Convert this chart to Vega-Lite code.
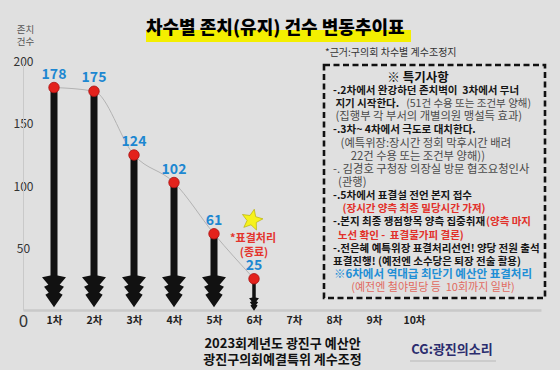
{
  "$schema": "https://vega.github.io/schema/vega-lite/v6.json",
  "width": 518,
  "height": 250,
  "autosize": {"type": "none"},
  "padding": {"left": 23, "top": 60, "right": 19, "bottom": 60},
  "background": "#e0e0e0",
  "config": {"view": {"stroke": null}, "font": "Noto Sans CJK KR", "text": {"font": "Noto Sans CJK KR"}},
  "title": {"text": "차수별 존치(유지) 건수 변동추이표", "anchor": "start", "frame": "group", "dx": 123, "dy": 23, "offset": 0, "fontSize": 18, "fontWeight": 900, "color": "#000000", "font": "Noto Sans CJK KR", "baseline": "middle"},
  "datasets": {
    "counts": [
      {"round": 1, "count": 178},
      {"round": 2, "count": 175},
      {"round": 3, "count": 124},
      {"round": 4, "count": 102},
      {"round": 5, "count": 61},
      {"round": 6, "count": 25}
    ],
    "labels": [
      {"id": "source", "text": "*근거:구의회 차수별 계수조정지"},
      {"id": "vote", "text": "*표결처리"},
      {"id": "vote2", "text": "(종료)"},
      {"id": "credit", "text": "CG:광진의소리"}
    ],
    "notes": [
      {"line": 0, "type": "head", "text": "※ 특기사항"},
      {"line": 1, "type": "bullet", "text": "-.2차에서 완강하던 존치벽이\u00a0\u00a03차에서 무너"},
      {"line": 2, "type": "bullet", "text": "\u200b\u00a0지기 시작한다."},
      {"line": 2, "type": "grayR", "text": "(51건 수용 또는 조건부 양해)"},
      {"line": 3, "type": "gray", "text": "\u200b\u00a0(집행부 각 부서의 개별의원 맹설득 효과)"},
      {"line": 4, "type": "bullet", "text": "-.3차~ 4차에서 극도로 대치한다."},
      {"line": 5, "type": "gray", "text": "\u200b\u00a0\u00a0\u00a0(예특위장:장시간 정회 막후시간 배려"},
      {"line": 6, "type": "gray", "text": "\u200b\u00a0\u00a0\u00a0\u00a0\u00a0\u00a0\u00a022건 수용 또는 조건부 양해))"},
      {"line": 7, "type": "gray", "text": "-. 김경호 구청장 의장실 방문 협조요청인사"},
      {"line": 8, "type": "gray", "text": "\u200b\u00a0\u00a0(관행)"},
      {"line": 9, "type": "bullet", "text": "-.5차에서 표결설 전언 본지 접수"},
      {"line": 10, "type": "red", "text": "\u200b\u00a0\u00a0\u00a0\u00a0(장시간 양측 최종 밀당시간 가져)"},
      {"line": 11, "type": "bullet", "text": "-.본지 최종 쟁점항목 양측 집중취재"},
      {"line": 11, "type": "redR", "text": "(양측 마지"},
      {"line": 12, "type": "red", "text": "\u200b\u00a0\u00a0노선 확인 -\u00a0\u00a0표결불가피 결론)"},
      {"line": 13, "type": "bullet", "text": "-.전은혜 예특위장 표결처리선언! 양당 전원 출석"},
      {"line": 14, "type": "bullet", "text": "표결진행! (예전엔 소수당은 퇴장 전술 활용)"},
      {"line": 15, "type": "blue", "text": "※6차에서 역대급 최단기 예산안 표결처리"},
      {"line": 16, "type": "note", "text": "(예전엔 철야밀당 등\u00a0\u00a010회까지 일반)"}
    ]
  },
  "layer": [
    {
      "data": {"name": "counts"},
      "layer": [
        {
          "mark": {"type": "line", "interpolate": "monotone", "color": "#b3b3b3", "strokeWidth": 1},
          "encoding": {
            "x": {"field": "round", "type": "quantitative",
              "scale": {"domain": [0.225, 13.175], "nice": false, "zero": false},
              "axis": {"values": [1, 2, 3, 4, 5, 6, 7, 8, 9, 10], "labelExpr": "datum.value + '차'", "ticks": false, "grid": false,
                "domainColor": "#c9c9c9", "domainWidth": 2.5, "labelFont": "Noto Sans CJK KR", "labelFontSize": 10.5, "labelFontWeight": "bold",
                "labelColor": "#222222", "labelPadding": 5, "labelFlush": false,
                "title": ["2023회계년도 광진구 예산안", "광진구의회예결특위 계수조정"], "titleFont": "Noto Sans CJK KR", "titleFontSize": 13, "titleFontWeight": "bold",
                "titleColor": "#111111", "titlePadding": 12, "titleLineHeight": 16}},
            "y": {"field": "count", "type": "quantitative",
              "scale": {"domain": [0, 200], "nice": false},
              "axis": {"values": [0, 50, 100, 150, 200], "ticks": false, "grid": false, "domainColor": "#c9c9c9", "domainWidth": 1,
                "labelAlign": "center", "labelPadding": 0, "labelFont": "Noto Sans CJK KR", "labelColor": "#333333",
                "labelFontSize": {"condition": {"test": "datum.value == 0", "value": 17}, "value": 12},
                "labelOffset": {"condition": {"test": "datum.value == 0", "value": 11}, "value": 1},
                "title": ["존치", "건수"], "titleAngle": 0, "titleX": 2, "titleY": -36, "titleAlign": "center", "titleBaseline": "top",
                "titleFont": "Noto Sans CJK KR", "titleFontSize": 9.5, "titleFontWeight": "normal", "titleColor": "#555555", "titleLineHeight": 12}}
          }
        },
        {
          "transform": [{"filter": "datum.round <= 5"}],
          "mark": {"type": "rule", "color": "#111111", "strokeWidth": 7},
          "encoding": {"x": {"field": "round", "type": "quantitative"}, "y": {"field": "count", "type": "quantitative"}, "y2": {"datum": 18}}
        },
        {
          "transform": [{"filter": "datum.round <= 5"}],
          "mark": {"type": "point", "filled": true, "color": "#111111", "opacity": 1, "size": 576, "strokeWidth": 0,
            "shape": "M-0.3,-1.3 L-1,-1.14 L-0.47,-0.53 L-0.83,-0.36 L-0.44,0.14 L-0.72,0.31 L0,1.36 L0.72,0.31 L0.44,0.14 L0.83,-0.36 L0.47,-0.53 L1,-1.14 L0.3,-1.3 Z"},
          "encoding": {"x": {"field": "round", "type": "quantitative"}, "y": {"datum": 15.2}}
        },
        {
          "transform": [{"filter": "datum.round == 6"}],
          "mark": {"type": "rule", "color": "#111111", "strokeWidth": 3.5},
          "encoding": {"x": {"field": "round", "type": "quantitative"}, "y": {"field": "count", "type": "quantitative"}, "y2": {"datum": 6}}
        },
        {
          "transform": [{"filter": "datum.round == 6"}],
          "mark": {"type": "point", "filled": true, "color": "#111111", "opacity": 1, "size": 100, "strokeWidth": 0,
            "shape": "M-0.3,-1.3 L-1,-1.14 L-0.47,-0.53 L-0.83,-0.36 L-0.44,0.14 L-0.72,0.31 L0,1.36 L0.72,0.31 L0.44,0.14 L0.83,-0.36 L0.47,-0.53 L1,-1.14 L0.3,-1.3 Z"},
          "encoding": {"x": {"field": "round", "type": "quantitative"}, "y": {"datum": 4.8}}
        },
        {
          "mark": {"type": "point", "shape": "circle", "filled": true, "fill": "#e3221c", "stroke": "#a81212", "strokeWidth": 0.8, "opacity": 1, "size": 110},
          "encoding": {"x": {"field": "round", "type": "quantitative"}, "y": {"field": "count", "type": "quantitative"}}
        },
        {
          "mark": {"type": "text", "dy": -13, "fontSize": 14, "fontWeight": "bold", "color": "#1d87d1", "baseline": "middle"},
          "encoding": {"x": {"field": "round", "type": "quantitative"}, "y": {"field": "count", "type": "quantitative"}, "text": {"field": "count", "type": "quantitative"}}
        },
        {
          "data": {"name": "labels"},
          "transform": [{"filter": "datum.id == 'source'"}],
          "mark": {"type": "rect", "fill": "#f4ef00"},
          "encoding": {"x": {"datum": 3.3}, "x2": {"datum": 9.925}, "y": {"datum": 224}, "y2": {"datum": 214.4}}
        },
        {
          "data": {"name": "labels"},
          "transform": [{"filter": "datum.id == 'source'"}],
          "mark": {"type": "text", "align": "left", "baseline": "middle", "fontSize": 10, "color": "#333333"},
          "encoding": {"x": {"datum": 7.775}, "y": {"datum": 205.6}, "text": {"field": "text"}}
        },
        {
          "data": {"name": "labels"},
          "transform": [{"filter": "datum.id == 'source'"}],
          "mark": {"type": "rect", "fill": "transparent", "stroke": "#111111", "strokeWidth": 2.6, "strokeDash": [6, 3.5]},
          "encoding": {"x": {"datum": 7.75}, "x2": {"datum": 13.275}, "y": {"datum": 196}, "y2": {"datum": 9.6}}
        },
        {
          "data": {"name": "labels"},
          "transform": [{"filter": "datum.id == 'vote'"}],
          "mark": {"type": "point", "filled": true, "fill": "#f6f21c", "stroke": "#b5ad00", "strokeWidth": 0.6, "opacity": 1, "size": 484, "angle": 12,
            "shape": "M0,-1 L0.265,-0.364 L0.951,-0.309 L0.428,0.139 L0.588,0.809 L0,0.45 L-0.588,0.809 L-0.428,0.139 L-0.951,-0.309 L-0.265,-0.364 Z"},
          "encoding": {"x": {"datum": 5.95}, "y": {"datum": 72}}
        },
        {
          "data": {"name": "labels"},
          "transform": [{"filter": "datum.id == 'vote'"}],
          "mark": {"type": "text", "align": "center", "baseline": "middle", "fontSize": 11, "fontWeight": "bold", "color": "#e3342c"},
          "encoding": {"x": {"datum": 5.975}, "y": {"datum": 56.8}, "text": {"field": "text"}}
        },
        {
          "data": {"name": "labels"},
          "transform": [{"filter": "datum.id == 'vote2'"}],
          "mark": {"type": "text", "align": "center", "baseline": "middle", "fontSize": 11, "fontWeight": "bold", "color": "#e3342c"},
          "encoding": {"x": {"datum": 6.0}, "y": {"datum": 45.6}, "text": {"field": "text"}}
        },
        {
          "data": {"name": "labels"},
          "transform": [{"filter": "datum.id == 'credit'"}],
          "mark": {"type": "text", "align": "center", "baseline": "middle", "fontSize": 13, "fontWeight": "bold", "color": "#2b2d6e"},
          "encoding": {"x": {"datum": 10.95}, "y": {"datum": -32}, "text": {"field": "text"}}
        },
        {
          "data": {"name": "labels"},
          "transform": [{"filter": "datum.id == 'credit'"}],
          "mark": {"type": "rule", "color": "#b8b8b8", "strokeWidth": 1},
          "encoding": {"x": {"datum": 9.9}, "x2": {"datum": 12.05}, "y": {"datum": -40.8}}
        }
      ]
    },
    {
      "data": {"name": "notes"},
      "encoding": {
        "y": {"field": "line", "type": "quantitative", "scale": {"domain": [-1.371, 17.676], "reverse": true, "nice": false, "zero": false}, "axis": null},
        "text": {"field": "text"}
      },
      "layer": [
        {
          "transform": [{"filter": "datum.type == 'bullet' || datum.type == 'red'"}],
          "mark": {"type": "text", "align": "left", "baseline": "middle", "fontSize": 10.5, "fontWeight": "bold"},
          "encoding": {"x": {"datum": 7.975}, "color": {"condition": {"test": "datum.type == 'red'", "value": "#e2302a"}, "value": "#151515"}}
        },
        {
          "transform": [{"filter": "datum.type == 'gray'"}],
          "mark": {"type": "text", "align": "left", "baseline": "middle", "fontSize": 11.3, "color": "#4a4a4a"},
          "encoding": {"x": {"datum": 7.975}}
        },
        {
          "transform": [{"filter": "datum.type == 'grayR'"}],
          "mark": {"type": "text", "align": "right", "baseline": "middle", "fontSize": 10.5, "color": "#4a4a4a"},
          "encoding": {"x": {"datum": 12.925}}
        },
        {
          "transform": [{"filter": "datum.type == 'redR'"}],
          "mark": {"type": "text", "align": "right", "baseline": "middle", "fontSize": 10.5, "fontWeight": "bold", "color": "#e2302a"},
          "encoding": {"x": {"datum": 12.925}}
        },
        {
          "transform": [{"filter": "datum.type == 'head'"}],
          "mark": {"type": "text", "align": "center", "baseline": "middle", "fontSize": 12.5, "fontWeight": "bold", "color": "#111111"},
          "encoding": {"x": {"datum": 10.1}}
        },
        {
          "transform": [{"filter": "datum.type == 'blue'"}],
          "mark": {"type": "text", "align": "center", "baseline": "middle", "fontSize": 11.5, "fontWeight": "bold", "color": "#1e8fd6"},
          "encoding": {"x": {"datum": 10.475}}
        },
        {
          "transform": [{"filter": "datum.type == 'note'"}],
          "mark": {"type": "text", "align": "center", "baseline": "middle", "fontSize": 11, "color": "#e06a60"},
          "encoding": {"x": {"datum": 10.475}}
        }
      ]
    }
  ],
  "resolve": {"scale": {"y": "independent"}}
}
